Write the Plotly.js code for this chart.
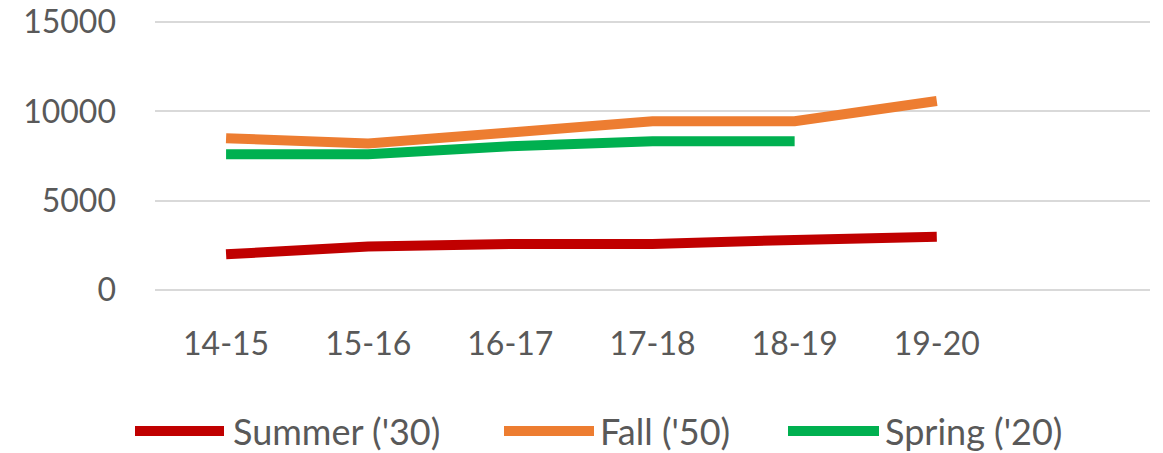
<!DOCTYPE html>
<html>
<head>
<meta charset="utf-8">
<script src="https://cdn.plot.ly/plotly-3.0.1.min.js"></script>
<style>html,body{margin:0;padding:0;background:#fff;}#chart{width:1163px;height:453px;}</style>
</head>
<body>
<div id="chart"></div>
<script>
const categories = ['14-15', '15-16', '16-17', '17-18', '18-19', '19-20'];
const seriesNames = ["Summer ('30)", "Fall ('50)", "Spring ('20)"];
const summer = [2000, 2430, 2580, 2580, 2800, 2980];
const fall = [8500, 8200, 8820, 9450, 9450, 10580];
const spring = [7600, 7600, 8050, 8320, 8320, null];
const yTicks = [0, 5000, 10000, 15000];
const colors = ['#C00000', '#ED7D31', '#00B050'];

const seriesValues = [summer, fall, spring];
const traces = seriesValues.map((vals, i) => ({
  type: 'scatter', mode: 'lines', x: categories, y: vals, name: seriesNames[i],
  line: {color: colors[i], width: 10}, connectgaps: false, showlegend: false, hoverinfo: 'skip'
}));

// custom legend (long line samples like the original)
const plotL = 155, plotW = 995, plotB = 294, plotT = 18;
const plotH = plotB - plotT;
const legendItems = [{x0: 135, x1: 224, tx: 231}, {x0: 504, x1: 594, tx: 598}, {x0: 788, x1: 879, tx: 883}];
const legY = 431;
const px = v => (v - plotL) / plotW;
const py = v => (plotB - v) / plotH;
const shapes = legendItems.map((it, i) => ({
  type: 'line', xref: 'paper', yref: 'paper', x0: px(it.x0), x1: px(it.x1), y0: py(legY), y1: py(legY),
  line: {color: colors[i], width: 10}
}));
const annotations = legendItems.map((it, i) => ({
  xref: 'paper', yref: 'paper', x: px(it.tx), y: py(legY), xanchor: 'left', yanchor: 'middle',
  text: seriesNames[i], showarrow: false, font: {family: 'Lato, "Open Sans", sans-serif', size: 36, color: '#595959'}
}));

const layout = {
  width: 1163, height: 453,
  margin: {l: plotL, r: 1163 - plotL - plotW, t: plotT, b: 453 - plotB},
  paper_bgcolor: '#fff', plot_bgcolor: '#fff',
  font: {family: 'Lato, "Open Sans", sans-serif', size: 32, color: '#595959'},
  xaxis: {type: 'category', categoryarray: categories, range: [-0.5, 6.5], showgrid: false, zeroline: false,
          showline: false, ticks: '', ticklabelstandoff: 28, tickfont: {size: 32, color: '#595959'}},
  yaxis: {range: [-224, 15224], tickvals: yTicks, ticktext: yTicks.map(String), showgrid: true, gridcolor: '#D9D9D9', gridwidth: 2,
          zeroline: false, showline: false, ticks: '', ticklabelstandoff: 38, tickfont: {size: 32, color: '#595959'}},
  shapes: shapes, annotations: annotations, showlegend: false
};

Plotly.newPlot('chart', traces, layout, {displayModeBar: false, staticPlot: true});
</script>
</body>
</html>
